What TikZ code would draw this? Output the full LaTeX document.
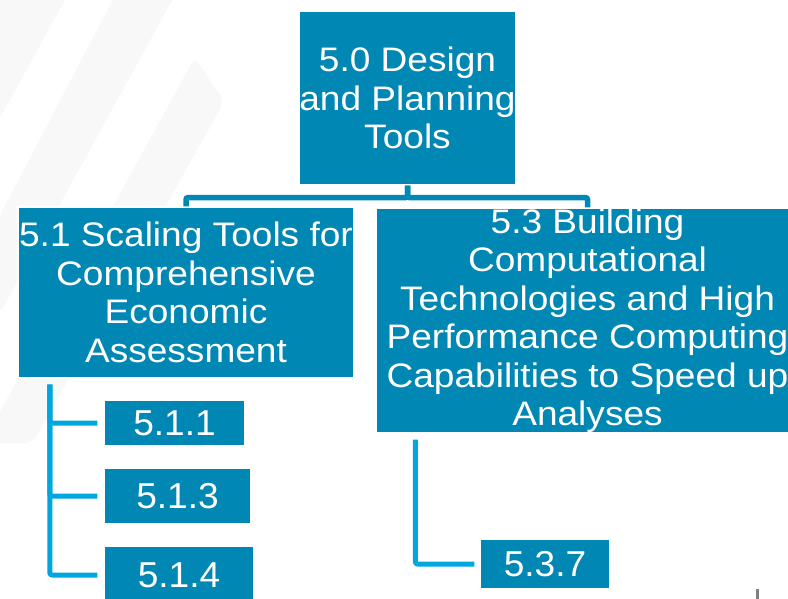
\documentclass[tikz,border=0pt]{standalone}
\usepackage{fontspec}
\setmainfont{Liberation Sans}
\newfontfamily\bigfont[FakeStretch=1.09]{Liberation Sans}
\newfontfamily\kidfont[FakeStretch=1.03]{Liberation Sans}
\definecolor{boxcol}{RGB}{0,135,179}
\definecolor{barcol}{RGB}{0,136,180}
\definecolor{kidcol}{RGB}{0,166,222}
\definecolor{wmcol}{RGB}{248,248,248}
\tikzset{
  bigbox/.style={fill=boxcol, draw=white, line width=1.2pt, text=white, inner sep=0pt,
    align=center, font=\bigfont\fontsize{34pt}{38.5pt}\selectfont},
  kidbox/.style={fill=boxcol, draw=white, line width=1.2pt, text=white, inner sep=0pt,
    align=center, font=\kidfont\fontsize{36pt}{40pt}\selectfont},
  barline/.style={draw=barcol, line width=5.5pt, rounded corners=2pt},
  kidline/.style={draw=kidcol, line width=5pt, rounded corners=2pt, line join=round}
}
\begin{document}
\begin{tikzpicture}[x=1pt,y=-1pt]
\useasboundingbox (0,0) rectangle (788,599);
\clip (0,0) rectangle (788,599);
% faint watermark strips
\fill[wmcol] (0,0) -- (65,0) -- (0,118) -- cycle;
\fill[wmcol, rounded corners=6pt] (118,-10) -- (178,-10) -- (0,313) -- (0,215) -- cycle;
\fill[wmcol, rounded corners=8pt] (195,57) -- (224,102) -- (33,443) -- (-10,443) -- (-10,430) -- cycle;
% boxes
\node[bigbox, minimum width=217pt, minimum height=174pt] (n50) at (407.5,98) {5.0 Design\\and Planning\\Tools};
\node[bigbox, minimum width=336pt, minimum height=171pt] (n51) at (186,292.5) {5.1 Scaling Tools for\\Comprehensive\\Economic\\Assessment};
\node[bigbox, minimum width=423pt, minimum height=225pt] (n53) at (587.5,320.5) {5.3 Building\\Computational\\Technologies and High\\Performance Computing\\Capabilities to Speed up\\Analyses};
\node[kidbox, minimum width=141pt, minimum height=45pt] (n511) at (174.5,423) {5.1.1};
\node[kidbox, minimum width=147pt, minimum height=56pt] (n513) at (177.5,496) {5.1.3};
\node[kidbox, minimum width=150pt, minimum height=58pt] (n514) at (179,575) {5.1.4};
\node[kidbox, minimum width=130pt, minimum height=49pt] (n537) at (545,564) {5.3.7};
% connectors
\draw[barline] (n50.south) -- ++(0,12) -| (n51.north);
\draw[barline] (n50.south) -- ++(0,12) -| (n53.north);
\draw[kidline] ([xshift=32.5pt,yshift=-6pt]n51.south west) |- ([xshift=-6pt]n511.west);
\draw[kidline] ([xshift=32.5pt,yshift=-6pt]n51.south west) |- ([xshift=-6pt]n513.west);
\draw[kidline] ([xshift=32.5pt,yshift=-6pt]n51.south west) |- ([xshift=-6pt]n514.west);
\draw[kidline] ([xshift=40pt,yshift=-6pt]n53.south west) |- ([xshift=-5pt]n537.west);
% small mark at bottom right
\fill[gray] (756,589) rectangle (758.5,599);
\end{tikzpicture}
\end{document}
